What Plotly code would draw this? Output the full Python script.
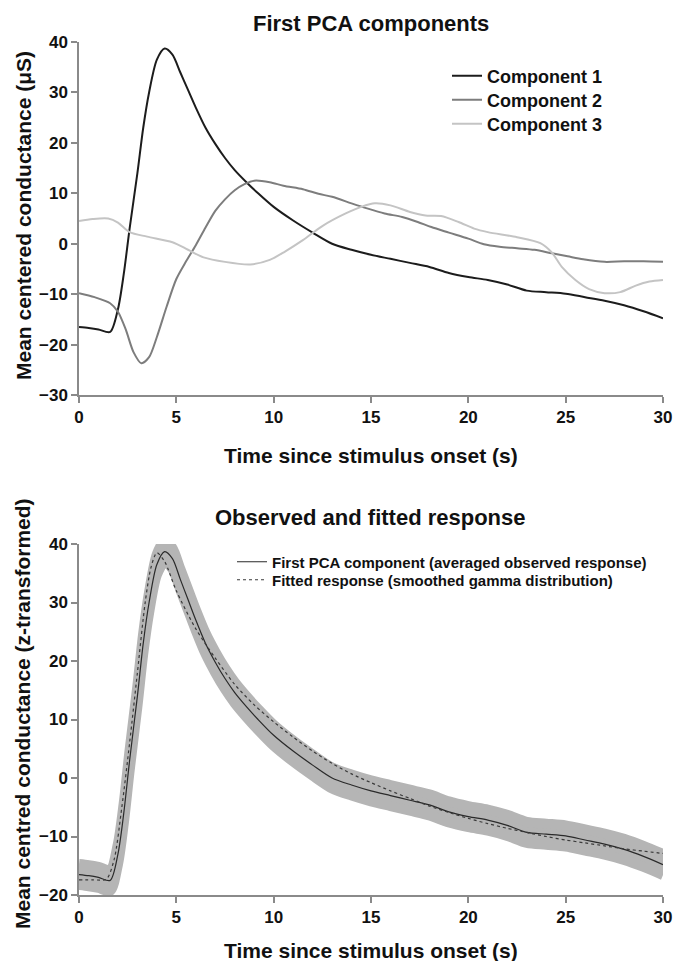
import plotly.graph_objects as go

# ---------------- data ----------------
time_c1 = [0, 0.5, 1.0, 1.6, 2.0, 2.3, 2.6, 3.0, 3.3, 3.6,
           4.0, 4.4, 4.8, 5.2, 5.6, 6.0, 6.5, 7.0, 7.5, 8.0,
           8.6, 9.2, 10, 11, 12, 13, 14, 15, 16, 17,
           18, 19, 20, 21, 22, 23, 24, 25, 26, 27,
           28, 29, 30]
component1 = [-16.5, -16.7, -17.0, -17.5, -13, -6, 3, 14, 23, 30,
              36.5, 38.7, 37.5, 34, 30.5, 27, 23, 19.8, 17, 14.6,
              12.2, 10, 7.3, 4.6, 2.2, 0, -1.2, -2.2, -3.0, -3.8,
              -4.6, -5.8, -6.6, -7.2, -8.1, -9.3, -9.6, -9.9, -10.6, -11.3,
              -12.2, -13.4, -14.8]

time_c2 = [0, 0.8, 1.6, 2.0, 2.4, 2.8, 3.2, 3.6, 4.0, 4.5,
           5.0, 5.5, 6.0, 6.5, 7.0, 7.5, 8.0, 8.5, 9.0, 9.8,
           10.5, 11.5, 12.3, 13, 14, 14.8, 15.7, 16.6, 17.4, 18.1,
           19, 20, 20.8, 21.6, 22.5, 23.4, 24.3, 25.1, 25.9, 27,
           28, 29, 30]
component2 = [-9.8, -10.6, -11.8, -13.5, -17, -21.5, -23.7, -22.5, -18.5, -12.5,
              -7.0, -3.5, -0.3, 3.2, 6.5, 8.8, 10.6, 11.8, 12.5, 12.2,
              11.5, 10.8, 9.9, 9.3, 8.0, 7.0, 6.0, 5.3, 4.3, 3.3,
              2.2, 1.0, -0.1, -0.6, -0.9, -1.2, -1.9, -2.5, -3.1, -3.6,
              -3.5, -3.5, -3.6]

time_c3 = [0, 0.7, 1.5, 2.0, 2.6, 3.5, 4.8, 5.6, 6.4, 7.5,
           8.8, 9.8, 10.6, 11.5, 12.5, 13.7, 14.5, 15.2, 16, 17,
           17.8, 18.6, 19.5, 20.3, 21, 22.5, 23.7, 24.3, 24.8, 25.5,
           26.2, 27.0, 27.8, 28.6, 29.3, 30]
component3 = [4.5, 4.9, 5.0, 4.2, 2.3, 1.4, 0.3, -1.2, -2.7, -3.6,
              -4.1, -3.2, -1.5, 0.7, 3.5, 6.0, 7.3, 8.0, 7.6, 6.3,
              5.6, 5.5, 4.3, 3.0, 2.3, 1.3, 0.1, -1.8, -4.6, -7.2,
              -9.0, -9.8, -9.6, -8.3, -7.5, -7.2]

time_fit = [0, 0.7, 1.4, 1.8, 2.2, 2.6, 3.0, 3.4, 3.7, 4.0,
            4.4, 5, 6, 7, 8, 9, 10, 11, 12, 13,
            14, 15, 16, 17, 18, 19, 20, 21, 22, 23,
            24, 25, 26, 27, 28, 29, 30]
fitted = [-17.4, -17.4, -17.3, -14, -5, 6, 18, 30, 36, 38.5,
          37, 32, 25.5, 20.5, 16, 12.5, 9.6, 7, 4.6, 2.5,
          0.7, -0.8, -2.2, -3.5, -4.8, -5.9, -6.9, -7.8, -8.6, -9.3,
          -10, -10.6, -11.1, -11.6, -12.1, -12.5, -12.9]

band_half_width = 1.8   # half-height of the grey band around the observed response

x_ticks = [0, 5, 10, 15, 20, 25, 30]
top_y_ticks = [-30, -20, -10, 0, 10, 20, 30, 40]
bottom_y_ticks = [-20, -10, 0, 10, 20, 30, 40]

top_title = "First PCA components"
bottom_title = "Observed and fitted response"
x_title = "Time since stimulus onset (s)"
top_y_title = "Mean centered conductance (\u03bcS)"
bottom_y_title = "Mean centred conductance (z-transformed)"

# ---------------- figure ----------------
W, H = 675, 961
FONT = "Liberation Sans, Arial, Helvetica, sans-serif"


def px_x(p):
    return p / W


def px_y(p):
    return 1 - p / H


fig = go.Figure()

# top panel (each entry in its own legend so entries can be spaced like the reference)
fig.add_trace(go.Scatter(x=time_c1, y=component1, mode="lines", name="Component 1",
                         line=dict(color="#1c1c1c", width=2, shape="spline", smoothing=0.8),
                         xaxis="x", yaxis="y", legend="legend"))
fig.add_trace(go.Scatter(x=time_c2, y=component2, mode="lines", name="Component 2",
                         line=dict(color="#7d7d7d", width=2, shape="spline", smoothing=0.8),
                         xaxis="x", yaxis="y", legend="legend2"))
fig.add_trace(go.Scatter(x=time_c3, y=component3, mode="lines", name="Component 3",
                         line=dict(color="#c4c4c4", width=2, shape="spline", smoothing=0.8),
                         xaxis="x", yaxis="y", legend="legend3"))

# bottom panel: grey band
upper = [v + band_half_width for v in component1]
lower = [v - band_half_width for v in component1]
band_col = "#b5b5b5"
fig.add_trace(go.Scatter(x=time_c1, y=lower, mode="lines", showlegend=False, hoverinfo="skip",
                         line=dict(color=band_col, width=10, shape="spline", smoothing=0.8),
                         xaxis="x2", yaxis="y2"))
fig.add_trace(go.Scatter(x=time_c1, y=upper, mode="lines", showlegend=False, hoverinfo="skip",
                         fill="tonexty", fillcolor=band_col,
                         line=dict(color=band_col, width=10, shape="spline", smoothing=0.8),
                         xaxis="x2", yaxis="y2"))
fig.add_trace(go.Scatter(x=time_c1, y=component1, mode="lines",
                         name="First PCA component (averaged observed response)",
                         line=dict(color="#2a2a2a", width=1.2, shape="spline", smoothing=0.8),
                         xaxis="x2", yaxis="y2", legend="legend4"))
fig.add_trace(go.Scatter(x=time_fit, y=fitted, mode="lines",
                         name="Fitted response (smoothed gamma distribution)",
                         line=dict(color="#3a3a3a", width=1.2, dash="dot", shape="spline", smoothing=0.8),
                         xaxis="x2", yaxis="y2", legend="legend5"))

axis_common = dict(
    showline=True, linecolor="#8a8a8a", linewidth=1.5,
    ticks="outside", tickcolor="#8a8a8a", ticklen=6, tickwidth=1.5,
    showgrid=False, zeroline=False, automargin=False,
    tickfont=dict(family=FONT, size=17, color="#111111", weight="bold"),
)

x_dom = [px_x(79), px_x(663)]


def legend_at(x, y, size):
    return dict(x=px_x(x), y=px_y(y), xanchor="left", yanchor="middle",
                bgcolor="rgba(0,0,0,0)", borderwidth=0, traceorder="normal",
                font=dict(family=FONT, size=size, color="#111111", weight="bold"))


fig.update_layout(
    width=W, height=H,
    margin=dict(l=0, r=0, t=0, b=0, autoexpand=False),
    paper_bgcolor="white", plot_bgcolor="white",
    font=dict(family=FONT, color="#111111"),
    xaxis=dict(domain=x_dom, range=[0, 30], tickvals=x_ticks, anchor="y", **axis_common),
    yaxis=dict(domain=[px_y(395), px_y(42)], range=[-30, 40], tickvals=top_y_ticks,
               anchor="x", **axis_common),
    xaxis2=dict(domain=x_dom, range=[0, 30], tickvals=x_ticks, anchor="y2", **axis_common),
    yaxis2=dict(domain=[px_y(895), px_y(544)], range=[-20, 40], tickvals=bottom_y_ticks,
                anchor="x2", **axis_common),
    legend=legend_at(447, 76, 18),
    legend2=legend_at(447, 100, 18),
    legend3=legend_at(447, 124, 18),
    legend4=legend_at(232, 562, 15),
    legend5=legend_at(232, 580, 15),
    showlegend=True,
)


def label(text, x, y, size, angle=0):
    fig.add_annotation(text="<b>%s</b>" % text, x=px_x(x), y=px_y(y), xref="paper", yref="paper",
                       xanchor="center", yanchor="middle", showarrow=False, textangle=angle,
                       font=dict(family=FONT, size=size, color="#111111"))


label(top_title, 371, 23, 22)
label(x_title, 371, 455, 21)
label(bottom_title, 371, 517, 22)
label(x_title, 371, 950, 21)
label(top_y_title, 24, 216, 21, -90)
label(bottom_y_title, 22, 714, 21, -90)

fig.write_html("out.html", config={"displayModeBar": False},
               post_script="document.body.style.margin='0';document.body.style.overflow='hidden';")
